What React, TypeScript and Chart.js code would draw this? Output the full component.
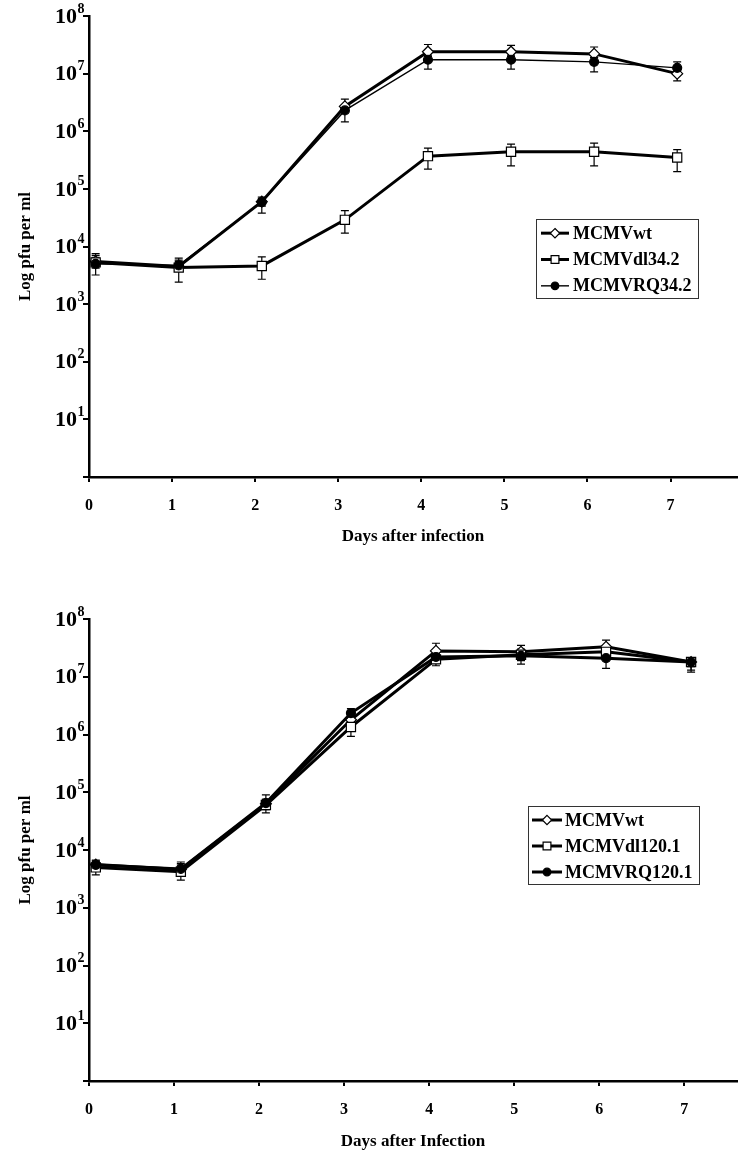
import React, { useEffect, useRef } from 'react';
import { Chart, registerables } from 'chart.js';
Chart.register(...registerables);

const FONT = "'Liberation Serif', 'Times New Roman', serif";

// ---------- data ----------
const days = [0, 1, 2, 3, 4, 5, 6, 7];
const yTickValues = [1, 10, 100, 1e3, 1e4, 1e5, 1e6, 1e7, 1e8];
const xTickValues = [0, 1, 2, 3, 4, 5, 6, 7];

const topLabels = ['MCMVwt', 'MCMVdl34.2', 'MCMVRQ34.2'];
const topWt = [5.5e3, 4.5e3, 6.0e4, 2.7e6, 2.4e7, 2.4e7, 2.2e7, 1.0e7];
const topWtHigh = [7.0e3, 5.5e3, 7.2e4, 3.6e6, 3.2e7, 3.1e7, 2.9e7, 1.15e7];
const topWtLow = [4.2e3, 3.8e3, 5.0e4, 2.2e6, 2.0e7, 2.0e7, 1.9e7, 7.5e6];
const topDl = [5.3e3, 4.3e3, 4.6e3, 2.9e4, 3.7e5, 4.4e5, 4.4e5, 3.5e5];
const topDlHigh = [7.5e3, 6.3e3, 6.6e3, 4.2e4, 5.1e5, 6.0e5, 6.2e5, 4.8e5];
const topDlLow = [3.2e3, 2.4e3, 2.7e3, 1.7e4, 2.2e5, 2.5e5, 2.5e5, 2.0e5];
const topRq = [5.0e3, 4.7e3, 5.9e4, 2.3e6, 1.74e7, 1.74e7, 1.6e7, 1.26e7];
const topRqHigh = [6.5e3, 5.8e3, 6.8e4, 2.8e6, 2.1e7, 2.1e7, 1.9e7, 1.6e7];
const topRqLow = [4.5e3, 4.0e3, 3.8e4, 1.45e6, 1.2e7, 1.2e7, 1.07e7, 1.05e7];

const botLabels = ['MCMVwt', 'MCMVdl120.1', 'MCMVRQ120.1'];
const botWt = [5.6e3, 4.6e3, 6.3e4, 1.8e6, 2.8e7, 2.7e7, 3.3e7, 1.8e7];
const botWtHigh = [6.7e3, 6.2e3, 9.0e4, 2.6e6, 3.8e7, 3.5e7, 4.3e7, 2.0e7];
const botWtLow = [4.6e3, 3.8e3, 5.0e4, 1.3e6, 2.2e7, 2.2e7, 2.5e7, 1.5e7];
const botDl = [5.0e3, 4.2e3, 6.0e4, 1.35e6, 2.0e7, 2.4e7, 2.7e7, 1.8e7];
const botDlHigh = [6.5e3, 5.5e3, 7.5e4, 1.8e6, 2.6e7, 3.0e7, 3.4e7, 2.1e7];
const botDlLow = [3.7e3, 3.0e3, 4.4e4, 9.3e5, 1.55e7, 1.9e7, 2.0e7, 1.2e7];
const botRq = [5.5e3, 4.7e3, 6.5e4, 2.35e6, 2.2e7, 2.3e7, 2.1e7, 1.8e7];
const botRqHigh = [6.3e3, 5.8e3, 7.5e4, 2.8e6, 2.6e7, 2.8e7, 2.5e7, 2.0e7];
const botRqLow = [4.8e3, 4.0e3, 5.5e4, 2.0e6, 1.9e7, 1.66e7, 1.4e7, 1.3e7];

const yTitle = 'Log pfu per ml';
const topXTitle = 'Days after infection';
const botXTitle = 'Days after Infection';

// ---------- styling ----------
const X_SHIFT = 0.08;

type Style = { pointStyle: string; pointRadius: number; fill: string; lineWidth: number; order: number };
const diamond = (lw: number): Style => ({ pointStyle: 'rectRot', pointRadius: 5.5, fill: '#fff', lineWidth: lw, order: 2 });
const square = (lw: number): Style => ({ pointStyle: 'rect', pointRadius: 6.5, fill: '#fff', lineWidth: lw, order: 1 });
const dot = (lw: number): Style => ({ pointStyle: 'circle', pointRadius: 4.5, fill: '#000', lineWidth: lw, order: 0 });

type Series = { label: string; values: number[]; high: number[]; low: number[]; style: Style };

const topSeries: Series[] = [
  { label: topLabels[0], values: topWt, high: topWtHigh, low: topWtLow, style: diamond(3) },
  { label: topLabels[1], values: topDl, high: topDlHigh, low: topDlLow, style: square(3) },
  { label: topLabels[2], values: topRq, high: topRqHigh, low: topRqLow, style: dot(1.4) },
];
const botSeries: Series[] = [
  { label: botLabels[0], values: botWt, high: botWtHigh, low: botWtLow, style: diamond(3) },
  { label: botLabels[1], values: botDl, high: botDlHigh, low: botDlLow, style: square(3) },
  { label: botLabels[2], values: botRq, high: botRqHigh, low: botRqLow, style: dot(3) },
];

function drawMarker(ctx: CanvasRenderingContext2D, s: Style, x: number, y: number) {
  const r = s.pointRadius;
  ctx.save();
  ctx.lineWidth = 1.2;
  ctx.strokeStyle = '#000';
  ctx.fillStyle = s.fill;
  ctx.beginPath();
  if (s.pointStyle === 'rectRot') {
    ctx.moveTo(x, y - r);
    ctx.lineTo(x + r, y);
    ctx.lineTo(x, y + r);
    ctx.lineTo(x - r, y);
    ctx.closePath();
  } else if (s.pointStyle === 'rect') {
    const h = r * Math.SQRT1_2;
    ctx.rect(x - h, y - h, 2 * h, 2 * h);
  } else {
    ctx.arc(x, y, r, 0, Math.PI * 2);
  }
  ctx.fill();
  ctx.stroke();
  ctx.restore();
}

type Props = {
  series: Series[];
  height: number;
  padTop: number;
  axisBottom: number;
  xMax: number;
  xTitle: string;
  xTitlePad: number;
  legend: { left: number; top: number; width: number; height: number; lineStart: number; lineEnd: number; textX: number };
};

function GrowthChart({ series, height, padTop, axisBottom, xMax, xTitle, xTitlePad, legend }: Props) {
  const ref = useRef<HTMLCanvasElement | null>(null);
  useEffect(() => {
    const canvas = ref.current;
    if (!canvas) return;
    const datasets: any[] = series.map((s) => ({
      label: s.label,
      data: days.map((d, i) => ({ x: d + X_SHIFT, y: s.values[i] })),
      errHigh: s.high,
      errLow: s.low,
      order: s.style.order,
      borderColor: '#000',
      borderWidth: s.style.lineWidth,
      tension: 0,
      fill: false,
      pointStyle: s.style.pointStyle,
      pointRadius: s.style.pointRadius,
      pointBackgroundColor: s.style.fill,
      pointBorderColor: '#000',
      pointBorderWidth: 1.2,
    }));

    const errorBars = {
      id: 'errorBars',
      beforeDatasetsDraw(chart: any) {
        const c = chart.ctx as CanvasRenderingContext2D;
        const xs = chart.scales.x;
        const ys = chart.scales.y;
        c.save();
        c.strokeStyle = '#000';
        c.lineWidth = 1.2;
        chart.data.datasets.forEach((ds: any) => {
          ds.data.forEach((p: any, i: number) => {
            const x = xs.getPixelForValue(p.x);
            const y1 = ys.getPixelForValue(ds.errHigh[i]);
            const y2 = ys.getPixelForValue(ds.errLow[i]);
            c.beginPath();
            c.moveTo(x, y1);
            c.lineTo(x, y2);
            c.moveTo(x - 4, y1);
            c.lineTo(x + 4, y1);
            c.moveTo(x - 4, y2);
            c.lineTo(x + 4, y2);
            c.stroke();
          });
        });
        c.restore();
      },
    };

    const yLabels = {
      id: 'yLabels',
      afterDraw(chart: any) {
        const c = chart.ctx as CanvasRenderingContext2D;
        const ys = chart.scales.y;
        const right = ys.right - 12;
        c.save();
        c.fillStyle = '#000';
        c.textBaseline = 'middle';
        ys.ticks.forEach((t: any) => {
          if (t.value < 10) return;
          const exp = Math.round(Math.log10(t.value));
          const y = ys.getPixelForValue(t.value);
          c.font = `bold 22px ${FONT}`;
          c.textAlign = 'right';
          c.fillText('10', right, y + 1);
          c.font = `bold 14px ${FONT}`;
          c.textAlign = 'left';
          c.fillText(String(exp), right + 0.5, y - 7);
        });
        c.restore();
      },
    };

    const legendBox = {
      id: 'legendBox',
      afterDraw(chart: any) {
        const c = chart.ctx as CanvasRenderingContext2D;
        c.save();
        c.strokeStyle = '#333';
        c.lineWidth = 1;
        c.strokeRect(legend.left + 0.5, legend.top + 0.5, legend.width, legend.height);
        const rowH = legend.height / series.length;
        series.forEach((s, i) => {
          const y = legend.top + rowH * (i + 0.5) + 1;
          c.strokeStyle = '#000';
          c.lineWidth = s.style.lineWidth;
          c.beginPath();
          c.moveTo(legend.lineStart, y);
          c.lineTo(legend.lineEnd, y);
          c.stroke();
          drawMarker(c, { ...s.style, pointRadius: s.style.pointRadius * 0.85 }, (legend.lineStart + legend.lineEnd) / 2, y);
          c.fillStyle = '#000';
          c.font = `bold 18px ${FONT}`;
          c.textAlign = 'left';
          c.textBaseline = 'middle';
          c.fillText(s.label, legend.textX, y + 1);
        });
        c.restore();
      },
    };

    const chart = new Chart(canvas, {
      type: 'line',
      data: { datasets },
      options: {
        animation: false,
        responsive: false,
        devicePixelRatio: 1,
        layout: { padding: { left: 0, right: 13, top: padTop, bottom: 0 } },
        plugins: { legend: { display: false }, tooltip: { enabled: false } },
        scales: {
          x: {
            type: 'linear',
            min: 0,
            max: xMax,
            afterBuildTicks: (s: any) => {
              s.ticks = xTickValues.map((v) => ({ value: v }));
            },
            afterFit: (s: any) => {
              s.height = height - axisBottom;
            },
            border: { display: true, color: '#000', width: 2.5 },
            grid: { drawOnChartArea: false, color: '#000', lineWidth: 2, tickLength: 5 },
            ticks: {
              color: '#000',
              padding: 14,
              maxRotation: 0,
              font: { family: FONT, weight: 'bold', size: 16 },
              callback: (v: any) => String(v),
            },
            title: {
              display: true,
              text: xTitle,
              color: '#000',
              font: { family: FONT, weight: 'bold', size: 17 },
              padding: { top: 0, bottom: xTitlePad },
            },
          },
          y: {
            type: 'logarithmic',
            min: 1,
            max: 1e8,
            afterBuildTicks: (s: any) => {
              s.ticks = yTickValues.map((v) => ({ value: v }));
            },
            afterFit: (s: any) => {
              s.width = 89;
            },
            border: { display: true, color: '#000', width: 2.5 },
            grid: { drawOnChartArea: false, color: '#000', lineWidth: 2, tickLength: 6 },
            ticks: { display: false },
            title: {
              display: true,
              text: yTitle,
              color: '#000',
              font: { family: FONT, weight: 'bold', size: 17 },
              padding: { top: 15, bottom: 0 },
            },
          },
        },
      } as any,
      plugins: [errorBars, yLabels, legendBox],
    });
    return () => chart.destroy();
  }, []);
  return <canvas ref={ref} width={750} height={height} style={{ display: 'block' }} />;
}

export default function App() {
  return (
    <div style={{ position: 'absolute', left: 0, top: 0, width: 750, height: 1156, background: '#fff' }}>
      <GrowthChart
        series={topSeries}
        height={560}
        padTop={16}
        axisBottom={477}
        xMax={7.8}
        xTitle={topXTitle}
        xTitlePad={13}
        legend={{ left: 536, top: 219, width: 162, height: 79, lineStart: 541, lineEnd: 569, textX: 573 }}
      />
      <GrowthChart
        series={botSeries}
        height={596}
        padTop={59}
        axisBottom={521}
        xMax={7.62}
        xTitle={botXTitle}
        xTitlePad={4}
        legend={{ left: 528, top: 246, width: 171, height: 78, lineStart: 532, lineEnd: 562, textX: 565 }}
      />
    </div>
  );
}
